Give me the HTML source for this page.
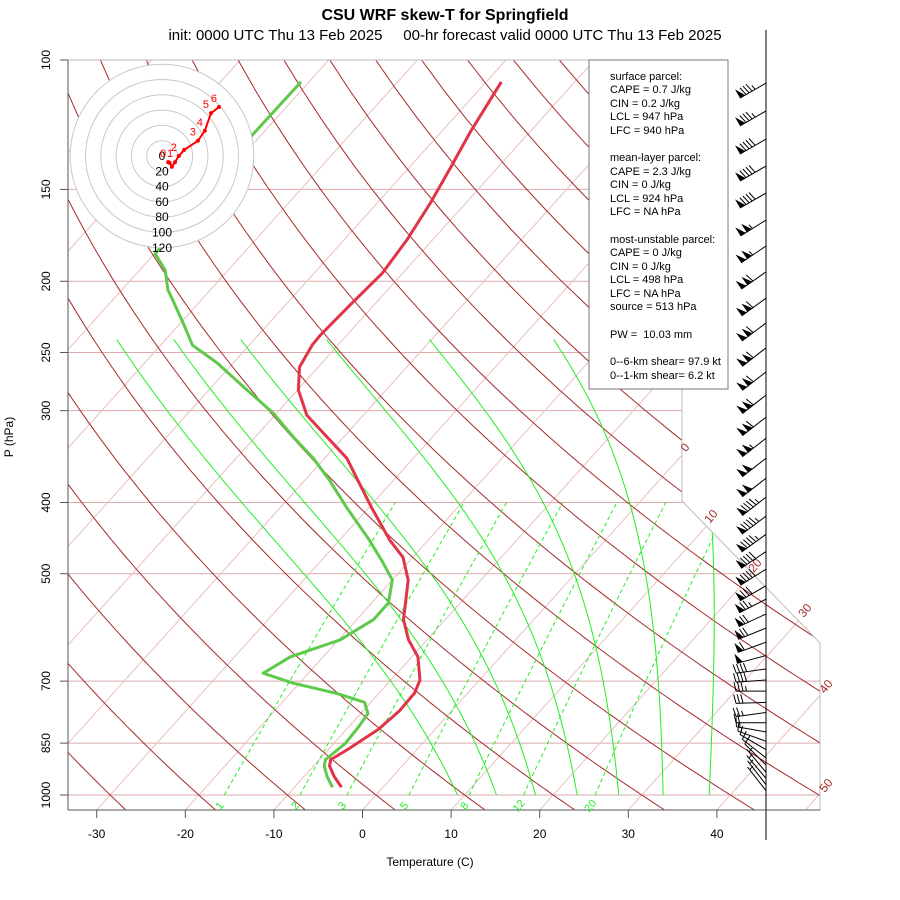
<!DOCTYPE html>
<html><head><meta charset="utf-8"><style>
html,body{margin:0;padding:0;background:#fff;}
svg{display:block;font-family:"Liberation Sans",sans-serif;}
</style></head><body>
<svg id="chart" width="900" height="900" viewBox="0 0 900 900" xmlns="http://www.w3.org/2000/svg">
<defs><clipPath id="plotClip"><polygon points="68,60 682,60 682,501 820,643 820,810 68,810"/></clipPath></defs>
<rect x="0" y="0" width="900" height="900" fill="#fff"/>
<text x="445" y="20" text-anchor="middle" font-size="16" font-weight="bold">CSU WRF skew-T for Springfield</text>
<text x="445" y="40" text-anchor="middle" font-size="15" xml:space="preserve">init: 0000 UTC Thu 13 Feb 2025     00-hr forecast valid 0000 UTC Thu 13 Feb 2025</text>
<g id="grid" clip-path="url(#plotClip)"></g>
<g id="bound">
<polyline points="68,60 682,60 682,501 820,643 820,810 68,810" fill="none" stroke="#bbb" stroke-width="1"/>
</g>
<g id="isoLabels" fill="#a52a2a" font-size="12">
<text transform="translate(688,450) rotate(-50)" text-anchor="middle">0</text>
<text transform="translate(714,519) rotate(-50)" text-anchor="middle">10</text>
<text transform="translate(758,568) rotate(-50)" text-anchor="middle">20</text>
<text transform="translate(808,613) rotate(-50)" text-anchor="middle">30</text>
<text transform="translate(829,689) rotate(-50)" text-anchor="middle">40</text>
<text transform="translate(829,788) rotate(-50)" text-anchor="middle">50</text>
</g>
<g id="profiles" clip-path="url(#plotClip)"></g>
<g id="hodo"></g>
<g id="infobox" font-size="11">
<rect x="589" y="60" width="139" height="329" fill="#fff" stroke="#777" stroke-width="1"/>
<text x="610" y="80">surface parcel:</text>
<text x="610" y="93">CAPE = 0.7 J/kg</text>
<text x="610" y="107">CIN = 0.2 J/kg</text>
<text x="610" y="120">LCL = 947 hPa</text>
<text x="610" y="134">LFC = 940 hPa</text>
<text x="610" y="161">mean-layer parcel:</text>
<text x="610" y="175">CAPE = 2.3 J/kg</text>
<text x="610" y="188">CIN = 0 J/kg</text>
<text x="610" y="202">LCL = 924 hPa</text>
<text x="610" y="215">LFC = NA hPa</text>
<text x="610" y="243">most-unstable parcel:</text>
<text x="610" y="256">CAPE = 0 J/kg</text>
<text x="610" y="270">CIN = 0 J/kg</text>
<text x="610" y="283">LCL = 498 hPa</text>
<text x="610" y="297">LFC = NA hPa</text>
<text x="610" y="310">source = 513 hPa</text>
<text x="610" y="338" xml:space="preserve">PW =  10.03 mm</text>
<text x="610" y="365">0--6-km shear= 97.9 kt</text>
<text x="610" y="379">0--1-km shear= 6.2 kt</text>
</g>
<line x1="766" y1="30" x2="766" y2="840" stroke="#000" stroke-width="1"/>
<g id="barbs"></g>
<g id="axes"></g>
<text x="430" y="866" text-anchor="middle" font-size="12">Temperature (C)</text>
<text transform="translate(13,437) rotate(-90)" text-anchor="middle" font-size="12">P (hPa)</text>
</svg>
<script>
// ---- data ----
var pressureTicks = [100,150,200,250,300,400,500,700,850,1000];
var tempTicks = [-30,-20,-10,0,10,20,30,40];
var isothermValues = [-130,-120,-110,-100,-90,-80,-70,-60,-50,-40,-30,-20,-10,0,10,20,30,40,50];
var dryAdiabatThetas = [-40,-30,-20,-10,0,10,20,30,40,50,60,70,80,90,100,110,120,130,140,150,160,170,180,190];
var moistStartTemps = [9.2,13.6,18.0,22.7,27.4,32.4,37.6];
var mixingRatios = [1,2,3,5,8,12,20];
var tempP = [107.1,125.3,140.3,156.5,175.7,195.0,215.5,236.8,244.4,261.7,281.2,304.2,325.8,348.2,373.2,407.2,450.3,474.9,510.0,577.5,614.9,648.7,697.8,726.6,767.9,814.3,866.2,895.0,912.9,943.7,975.8];
var tempT = [-58.3,-56.7,-55.3,-54.0,-52.9,-52.3,-52.7,-53.0,-52.9,-52.1,-49.9,-46.4,-41.9,-37.5,-34.0,-29.6,-24.3,-21.1,-18.2,-14.7,-12.1,-9.3,-6.7,-6.0,-5.9,-6.4,-7.8,-8.7,-8.2,-6.6,-4.7];
var dewP = [107.1,126.4,183.5,193.2,205.5,210.9,228.0,244.4,258.4,281.2,302.3,325.8,348.2,373.2,407.2,450.3,482.2,510.0,548.0,577.5,614.9,648.7,682.8,704.5,727.1,748.1,774.6,804.9,850.6,895.0,912.9,943.7,975.8];
var dewT = [-80.9,-81.0,-79.9,-77.1,-74.8,-73.5,-69.7,-66.4,-61.8,-55.7,-50.4,-45.7,-41.3,-37.2,-32.4,-26.6,-22.9,-20.0,-18.1,-18.1,-19.8,-23.7,-25.1,-20.7,-14.8,-10.7,-9.2,-8.9,-8.7,-9.3,-8.8,-7.4,-5.7];
var hodoU = [8,10,13,17,22,29,47,56,64,74.5];
var hodoV = [-8,-9,-14,-8,0,8,20,33,56,64];
var hodoLabels = ["0","","","1","2","","3","4","5","6"];
var hodoRings = [20,40,60,80,100,120];
var barbP = [107.5,117.3,128.1,139.4,151.7,165.1,179.1,194.2,210.9,227.9,246.4,265.7,285.7,306.2,327.1,348.2,370.7,393.3,417.4,441.9,466.4,492.9,519.2,541.4,567.2,592.8,619.6,646.1,673.8,697.5,722.2,748.1,772.2,797.4,820.7,845.2,867.5,890.2,910.5,931.3,949.3,967.7,986.5];
var barbSpd = [85,85,90,90,90,105,105,110,110,110,110,110,110,110,105,100,100,95,95,95,90,90,80,75,70,70,60,50,40,40,35,30,25,20,15,15,10,10,10,5,5,5,5];
var barbDir = [240,240,240,240,240,238,236,235,234,233,232,232,232,232,232,232,232,232,233,234,236,238,240,243,245,248,250,255,262,266,270,268,262,270,280,290,300,308,315,320,320,322,322];

// ---- scales ----
function yP(p){ return 60 + 319.2*Math.log(p/100); }
function xTP(t,p){ return 362.5 + 8.86*t + 0.9*(810 - yP(p)); }
function yInv(y){ return 100*Math.exp((y-60)/319.2); }
var NS = "http://www.w3.org/2000/svg";
function mk(tag, attrs, parent){ var e=document.createElementNS(NS,tag); for(var k in attrs) e.setAttribute(k,attrs[k]); parent.appendChild(e); return e; }
function pathFrom(pts){ return pts.map(function(q,i){return (i?"L":"M")+q[0].toFixed(1)+","+q[1].toFixed(1);}).join(""); }

var grid = document.getElementById("grid");
pressureTicks.forEach(function(p){
  var l = mk("line",{x1:68,x2:820,y1:yP(p),y2:yP(p),stroke:"#dcaaaa","stroke-width":1},grid);
  
  
});
isothermValues.forEach(function(t){
  var l = mk("line",{x1:xTP(t,1050),y1:yP(1050),x2:xTP(t,100),y2:yP(100),stroke:"#e8c0c0","stroke-width":1},grid);
  
  
});
dryAdiabatThetas.forEach(function(th){
  var pts=[];
  for(var p=1050;p>=100;p-=10){ var T=(th+273.15)*Math.pow(p/1000,0.2857)-273.15; pts.push([xTP(T,p),yP(p)]); }
  var e = mk("path",{d:pathFrom(pts),fill:"none",stroke:"#a52a2a","stroke-width":1},grid);
  
  
});
function es(tc){ return 6.112*Math.exp(17.67*tc/(tc+243.5)); }
moistStartTemps.forEach(function(t0){
  var T=t0+273.15, p=1000, pts=[[xTP(t0,p),yP(p)]];
  while(p>240){
    var dp=-2;
    var tc=T-273.15, e=es(tc), rs=0.74*0.622*e/(p-e);
    var num=287*T+2.5e6*rs, den=1004+2.5e6*2.5e6*rs*0.622/(287*T*T);
    T += (num/den)*(dp/p);
    p += dp;
    pts.push([xTP(T-273.15,p),yP(p)]);
  }
  var e2 = mk("path",{d:pathFrom(pts),fill:"none",stroke:"#22ee22","stroke-width":1},grid);
  
  
});
mixingRatios.forEach(function(w){
  var pts=[];
  for(var p=1000;p>=400;p-=10){ var e=w*p/(622+w); var a=Math.log(e/6.112); var td=243.5*a/(17.67-a); pts.push([xTP(td,p),yP(p)]); }
  var l = mk("path",{d:pathFrom(pts),fill:"none",stroke:"#22ee22","stroke-width":1,"stroke-dasharray":"4,3"},grid);
  
  
  var x0 = pts[0][0];
  var tx = mk("text",{transform:"translate("+(x0-2).toFixed(1)+",808) rotate(-50)","text-anchor":"middle","font-size":"11",fill:"#22ee22"},document.getElementById("chart"));
  tx.textContent = String(w);
  
  
});

var prof = document.getElementById("profiles");
var dpts = dewP.map(function(p,i){ return [xTP(dewT[i],p),yP(p)]; });
var dl = mk("path",{d:pathFrom(dpts),fill:"none",stroke:"#5ec94a","stroke-width":3,"stroke-linejoin":"round"},prof);


var tpts = tempP.map(function(p,i){ return [xTP(tempT[i],p),yP(p)]; });
var tl = mk("path",{d:pathFrom(tpts),fill:"none",stroke:"#e03448","stroke-width":3,"stroke-linejoin":"round"},prof);



var hodo = document.getElementById("hodo");
var cx=162, cy=156, kscale=0.765;
var disk = mk("circle",{cx:cx,cy:cy,r:92,fill:"#fff",stroke:"none"},hodo);


hodoRings.forEach(function(r){
  var c = mk("circle",{cx:cx,cy:cy,r:r*kscale,fill:"none",stroke:"#c8c8c8","stroke-width":1},hodo);
  
  
});
var t0 = mk("text",{x:cx,y:cy+4,"text-anchor":"middle","font-size":"12"},hodo); t0.textContent="0";


hodoRings.forEach(function(r){
  var t = mk("text",{x:cx,y:cy+r*kscale+4,"text-anchor":"middle","font-size":"12"},hodo);
  t.textContent=String(r);
  
  
});
var hpts = hodoU.map(function(u,i){ return [cx+u*kscale, cy-hodoV[i]*kscale]; });
var hl = mk("path",{d:pathFrom(hpts),fill:"none",stroke:"#ff0000","stroke-width":2},hodo);


hpts.forEach(function(q,i){
  var d = mk("circle",{cx:q[0],cy:q[1],r:2,fill:"#ff0000"},hodo);
  
  
  if(hodoLabels[i]){
    var t = mk("text",{x:q[0]-5,y:q[1]-5,"text-anchor":"middle","font-size":"11",fill:"#ff0000"},hodo);
    t.textContent=hodoLabels[i];
    
    
  }
});

var bg = document.getElementById("barbs");
barbP.forEach(function(p,i){
  var ox=766, oy=yP(p), d=barbDir[i]*Math.PI/180, L=30;
  var ux=Math.sin(d), uy=-Math.cos(d);
  var nx=-uy, ny=ux;
  var ex=ox+L*ux, ey=oy+L*uy;
  var g = mk("g",{},bg);
  
  
  mk("line",{x1:ox,y1:oy,x2:ex,y2:ey,stroke:"#000","stroke-width":1},g);
  var spd=Math.round(barbSpd[i]/5)*5, s=0;
  function P(s){ return [ex-s*ux, ey-s*uy]; }
  while(spd>=50){
    var a=P(s), b=P(s+6);
    mk("polygon",{points:a[0]+","+a[1]+" "+b[0]+","+b[1]+" "+(a[0]+10*nx)+","+(a[1]+10*ny),fill:"#000"},g);
    s+=7; spd-=50;
  }
  while(spd>=10){
    var a2=P(s); mk("line",{x1:a2[0],y1:a2[1],x2:a2[0]+9*nx+2*ux,y2:a2[1]+9*ny+2*uy,stroke:"#000","stroke-width":1},g);
    s+=3.5; spd-=10;
  }
  if(spd>=5){
    if(s===0) s=3.5;
    var a3=P(s); mk("line",{x1:a3[0],y1:a3[1],x2:a3[0]+5*nx+1*ux,y2:a3[1]+5*ny+1*uy,stroke:"#000","stroke-width":1},g);
  }
});

var ax = document.getElementById("axes");
mk("line",{x1:68,y1:60,x2:68,y2:810,stroke:"#555","stroke-width":1},ax);
mk("line",{x1:68,y1:810,x2:820,y2:810,stroke:"#555","stroke-width":1},ax);
pressureTicks.forEach(function(p){
  var y=yP(p);
  var tk = mk("line",{x1:60,y1:y,x2:68,y2:y,stroke:"#555"},ax);
  
  
  var t = mk("text",{transform:"translate(50,"+y.toFixed(1)+") rotate(-90)","text-anchor":"middle","font-size":"12"},ax);
  t.textContent=String(p);
  
  
});
tempTicks.forEach(function(tv){
  var x=xTP(tv,yInv(810));
  var tk = mk("line",{x1:x,y1:810,x2:x,y2:818,stroke:"#555"},ax);
  
  
  var t = mk("text",{x:x,y:838,"text-anchor":"middle","font-size":"12"},ax);
  t.textContent=String(tv);
  
  
});
</script>
</body></html>
